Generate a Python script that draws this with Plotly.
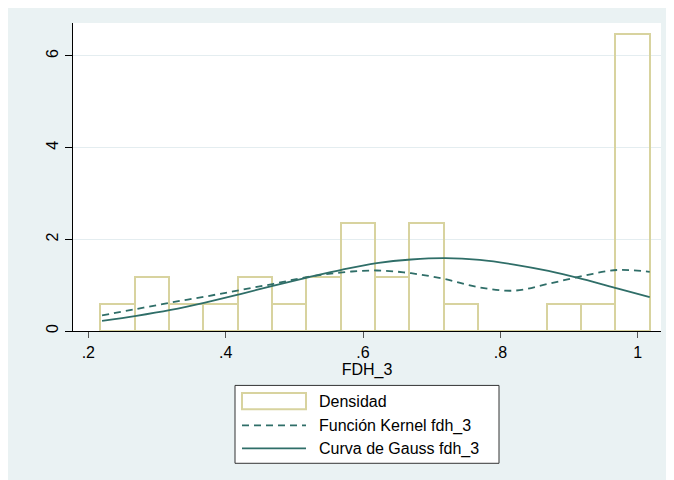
import plotly.graph_objects as go

# ---- data ----
bin_centers = [0.2425, 0.2925, 0.3425, 0.3925, 0.4425, 0.4925, 0.5425, 0.5925,
               0.6425, 0.6925, 0.7425, 0.7925, 0.8425, 0.8925, 0.9425, 0.9925]
density = [0.59, 1.18, 0.59, 0.59, 1.18, 0.59, 1.18, 2.35,
           1.18, 2.35, 0.59, 0, 0, 0.59, 0.59, 6.47]
bin_width = 0.05

curve_x = [0.22, 0.27, 0.32, 0.37, 0.42, 0.47, 0.52, 0.57, 0.62,
           0.67, 0.72, 0.77, 0.82, 0.87, 0.92, 0.97, 1.0175]
kernel_y = [0.34, 0.48, 0.62, 0.75, 0.89, 1.03, 1.18, 1.28, 1.32,
            1.26, 1.13, 0.95, 0.88, 1.03, 1.20, 1.33, 1.29]
gauss_y = [0.22, 0.33, 0.46, 0.62, 0.80, 0.99, 1.17, 1.34, 1.48,
           1.56, 1.59, 1.55, 1.45, 1.31, 1.13, 0.93, 0.74]

x_ticks = [0.2, 0.4, 0.6, 0.8, 1.0]
x_ticktext = [".2", ".4", ".6", ".8", "1"]
y_ticks = [0, 2, 4, 6]
y_ticktext = ["0", "2", "4", "6"]

legend_labels = ["Densidad", "Función Kernel fdh_3", "Curva de Gauss fdh_3"]
x_title = "FDH_3"

# ---- styling (figure pixel coordinates; page body adds an 8px offset) ----
OFF = 8
W, H = 674 - OFF, 480 - OFF
L, R, T, B = 73 - OFF, 661 - OFF, 23 - OFF, 331.5 - OFF
BG = "#eaf2f3"
KHAKI = "#d8d39f"
TEAL = "#2f6e68"
FONT = "Liberation Sans, Arial, sans-serif"


def px(xp):
    return (xp - OFF - L) / (R - L)


def py(yp):
    return (B - (yp - OFF)) / (B - T)


fig = go.Figure()
fig.add_trace(go.Bar(x=bin_centers, y=density, width=bin_width,
                     marker=dict(color="rgba(0,0,0,0)", line=dict(color=KHAKI, width=2)),
                     name=legend_labels[0], showlegend=False))
fig.add_trace(go.Scatter(x=curve_x, y=kernel_y, mode="lines", line_shape="spline",
                         line=dict(color=TEAL, width=1.8, dash="7px,5px"),
                         name=legend_labels[1], showlegend=False))
fig.add_trace(go.Scatter(x=curve_x, y=gauss_y, mode="lines", line_shape="spline",
                         line=dict(color=TEAL, width=1.8),
                         name=legend_labels[2], showlegend=False))

# legend drawn by hand (positions given in screen pixels of the reference)
shapes = [
    dict(type="rect", xref="paper", yref="paper", x0=px(235), x1=px(499), y0=py(386), y1=py(464),
         fillcolor="white", line=dict(color="#333333", width=1)),
    dict(type="rect", xref="paper", yref="paper", x0=px(242), x1=px(306), y0=py(393.5), y1=py(410),
         fillcolor="rgba(0,0,0,0)", line=dict(color=KHAKI, width=2)),
    dict(type="line", xref="paper", yref="paper", x0=px(242), x1=px(306), y0=py(426), y1=py(426),
         line=dict(color=TEAL, width=1.8, dash="7px,5px")),
    dict(type="line", xref="paper", yref="paper", x0=px(242), x1=px(306), y0=py(449), y1=py(449),
         line=dict(color=TEAL, width=1.8)),
]

annotations = []
for label, yc in zip(legend_labels, [402, 426.5, 450]):
    annotations.append(dict(text=label, xref="paper", yref="paper", x=px(317), y=py(yc),
                            xanchor="left", yanchor="middle", showarrow=False,
                            font=dict(family=FONT, size=16, color="black")))

fig.update_layout(
    width=W, height=H,
    margin=dict(l=L, r=W - R, t=T, b=H - B, pad=0),
    paper_bgcolor=BG, plot_bgcolor="white",
    font=dict(family=FONT, size=16, color="black"),
    shapes=shapes, annotations=annotations,
    bargap=0, showlegend=False,
    xaxis=dict(range=[0.1777, 1.0339], tickvals=x_ticks, ticktext=x_ticktext,
               showgrid=False, zeroline=False, showline=True, linecolor="black", linewidth=1.3,
               ticks="outside", ticklen=6, tickcolor="#555555", tickwidth=1.3,
               ticklabelstandoff=1,
               title=dict(text=x_title, standoff=2, font=dict(family=FONT, size=16))),
    yaxis=dict(range=[0, 6.718], tickvals=y_ticks, ticktext=y_ticktext, tickangle=-90,
               showgrid=True, gridcolor="#e4edf0", gridwidth=1, zeroline=False,
               showline=True, linecolor="black", linewidth=1.3,
               ticks="outside", ticklen=7, tickcolor="black", tickwidth=1.3,
               ticklabelstandoff=0),
)

fig.write_html("out.html")
